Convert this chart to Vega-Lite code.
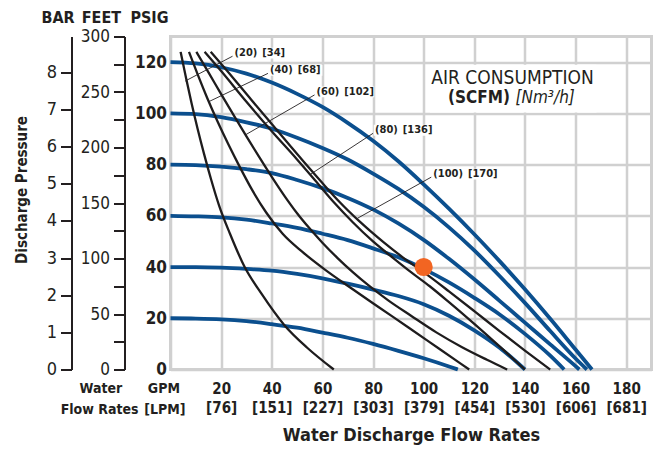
{
  "$schema": "https://vega.github.io/schema/vega-lite/v6.json",
  "autosize": "none",
  "padding": {"left": 170.5, "top": 36.5, "right": 5.5, "bottom": 79.5},
  "width": 481,
  "height": 333,
  "background": "white",
  "datasets": {
    "blue": [
      {"series":"P120","gpm":0,"psi":120},{"series":"P120","gpm":10,"psi":119.5},{"series":"P120","gpm":20,"psi":118},{"series":"P120","gpm":30,"psi":115.5},{"series":"P120","gpm":40,"psi":112},{"series":"P120","gpm":50,"psi":107.6},{"series":"P120","gpm":60,"psi":102.5},{"series":"P120","gpm":70,"psi":96.3},{"series":"P120","gpm":80,"psi":89.3},{"series":"P120","gpm":90,"psi":81.3},{"series":"P120","gpm":100,"psi":72.3},{"series":"P120","gpm":110,"psi":62.8},{"series":"P120","gpm":120,"psi":52.8},{"series":"P120","gpm":130,"psi":42.3},{"series":"P120","gpm":140,"psi":31.3},{"series":"P120","gpm":150,"psi":19.8},{"series":"P120","gpm":160,"psi":7.8},{"series":"P120","gpm":166.5,"psi":0},
      {"series":"P100","gpm":0,"psi":100},{"series":"P100","gpm":10,"psi":99.7},{"series":"P100","gpm":20,"psi":98.5},{"series":"P100","gpm":30,"psi":96.5},{"series":"P100","gpm":40,"psi":94},{"series":"P100","gpm":50,"psi":90.5},{"series":"P100","gpm":60,"psi":86.5},{"series":"P100","gpm":70,"psi":82},{"series":"P100","gpm":80,"psi":76.5},{"series":"P100","gpm":90,"psi":70.5},{"series":"P100","gpm":100,"psi":63.5},{"series":"P100","gpm":110,"psi":55.5},{"series":"P100","gpm":120,"psi":46.5},{"series":"P100","gpm":130,"psi":36.5},{"series":"P100","gpm":140,"psi":26},{"series":"P100","gpm":150,"psi":15},{"series":"P100","gpm":160,"psi":4.3},{"series":"P100","gpm":164.5,"psi":0},
      {"series":"P80","gpm":0,"psi":80},{"series":"P80","gpm":10,"psi":79.8},{"series":"P80","gpm":20,"psi":79.2},{"series":"P80","gpm":30,"psi":78.2},{"series":"P80","gpm":40,"psi":76.7},{"series":"P80","gpm":50,"psi":74},{"series":"P80","gpm":60,"psi":70.8},{"series":"P80","gpm":70,"psi":67},{"series":"P80","gpm":80,"psi":62.5},{"series":"P80","gpm":90,"psi":57},{"series":"P80","gpm":100,"psi":50.6},{"series":"P80","gpm":110,"psi":43.2},{"series":"P80","gpm":120,"psi":35.2},{"series":"P80","gpm":130,"psi":26.8},{"series":"P80","gpm":140,"psi":18.3},{"series":"P80","gpm":150,"psi":9.8},{"series":"P80","gpm":160,"psi":1.3},{"series":"P80","gpm":161.5,"psi":0},
      {"series":"P60","gpm":0,"psi":60},{"series":"P60","gpm":10,"psi":59.8},{"series":"P60","gpm":20,"psi":59.4},{"series":"P60","gpm":30,"psi":58.5},{"series":"P60","gpm":40,"psi":57},{"series":"P60","gpm":50,"psi":55.3},{"series":"P60","gpm":60,"psi":53},{"series":"P60","gpm":70,"psi":50.5},{"series":"P60","gpm":80,"psi":47.3},{"series":"P60","gpm":90,"psi":43.8},{"series":"P60","gpm":100,"psi":39.3},{"series":"P60","gpm":110,"psi":34},{"series":"P60","gpm":120,"psi":28},{"series":"P60","gpm":130,"psi":21.5},{"series":"P60","gpm":140,"psi":13.9},{"series":"P60","gpm":150,"psi":5.4},{"series":"P60","gpm":155.5,"psi":0},
      {"series":"P40","gpm":0,"psi":40},{"series":"P40","gpm":10,"psi":40},{"series":"P40","gpm":20,"psi":39.8},{"series":"P40","gpm":30,"psi":39.3},{"series":"P40","gpm":40,"psi":38.6},{"series":"P40","gpm":50,"psi":37.3},{"series":"P40","gpm":60,"psi":35.6},{"series":"P40","gpm":70,"psi":33.5},{"series":"P40","gpm":80,"psi":31.2},{"series":"P40","gpm":90,"psi":28.7},{"series":"P40","gpm":100,"psi":25.5},{"series":"P40","gpm":110,"psi":21},{"series":"P40","gpm":120,"psi":15.3},{"series":"P40","gpm":130,"psi":8.5},{"series":"P40","gpm":140,"psi":0},
      {"series":"P20","gpm":0,"psi":20},{"series":"P20","gpm":10,"psi":19.9},{"series":"P20","gpm":20,"psi":19.6},{"series":"P20","gpm":30,"psi":18.9},{"series":"P20","gpm":40,"psi":17.7},{"series":"P20","gpm":50,"psi":16.3},{"series":"P20","gpm":60,"psi":14.4},{"series":"P20","gpm":70,"psi":12.4},{"series":"P20","gpm":80,"psi":10},{"series":"P20","gpm":90,"psi":7.3},{"series":"P20","gpm":100,"psi":4.4},{"series":"P20","gpm":110,"psi":1.2},{"series":"P20","gpm":113.5,"psi":0}
    ],
    "black": [
      {"series":"S20","gpm":4,"psi":124},{"series":"S20","gpm":6.1,"psi":114},{"series":"S20","gpm":8.3,"psi":104},{"series":"S20","gpm":10.7,"psi":94},{"series":"S20","gpm":13.3,"psi":84},{"series":"S20","gpm":16.1,"psi":74},{"series":"S20","gpm":19.2,"psi":64},{"series":"S20","gpm":23.5,"psi":53},{"series":"S20","gpm":29.3,"psi":40},{"series":"S20","gpm":36,"psi":29.5},{"series":"S20","gpm":45,"psi":17.3},{"series":"S20","gpm":54,"psi":8.5},{"series":"S20","gpm":64.5,"psi":0},
      {"series":"S40","gpm":7.3,"psi":124},{"series":"S40","gpm":10.8,"psi":115},{"series":"S40","gpm":14.5,"psi":106},{"series":"S40","gpm":18.5,"psi":97},{"series":"S40","gpm":22.8,"psi":88},{"series":"S40","gpm":27.4,"psi":79},{"series":"S40","gpm":32.3,"psi":70},{"series":"S40","gpm":37.8,"psi":61.3},{"series":"S40","gpm":44.3,"psi":53},{"series":"S40","gpm":52,"psi":46},{"series":"S40","gpm":61,"psi":39},{"series":"S40","gpm":71,"psi":32},{"series":"S40","gpm":82,"psi":24.5},{"series":"S40","gpm":94,"psi":16.4},{"series":"S40","gpm":106,"psi":8.2},{"series":"S40","gpm":118,"psi":0},
      {"series":"S60","gpm":10.2,"psi":124},{"series":"S60","gpm":15,"psi":116},{"series":"S60","gpm":20,"psi":107.5},{"series":"S60","gpm":25,"psi":99.2},{"series":"S60","gpm":30,"psi":91},{"series":"S60","gpm":35,"psi":83},{"series":"S60","gpm":40,"psi":75.2},{"series":"S60","gpm":45,"psi":67.8},{"series":"S60","gpm":50,"psi":61},{"series":"S60","gpm":55,"psi":55},{"series":"S60","gpm":60,"psi":49.5},{"series":"S60","gpm":66,"psi":43.5},{"series":"S60","gpm":72,"psi":38},{"series":"S60","gpm":78,"psi":33},{"series":"S60","gpm":86,"psi":27},{"series":"S60","gpm":95,"psi":21},{"series":"S60","gpm":105,"psi":14.5},{"series":"S60","gpm":115,"psi":8.8},{"series":"S60","gpm":125,"psi":3.8},{"series":"S60","gpm":133,"psi":0},
      {"series":"S80","gpm":13.5,"psi":124},{"series":"S80","gpm":20,"psi":116.5},{"series":"S80","gpm":30,"psi":104.5},{"series":"S80","gpm":40,"psi":93},{"series":"S80","gpm":50,"psi":82},{"series":"S80","gpm":57,"psi":74},{"series":"S80","gpm":64.8,"psi":65},{"series":"S80","gpm":72,"psi":57.5},{"series":"S80","gpm":80,"psi":50},{"series":"S80","gpm":88,"psi":43.5},{"series":"S80","gpm":95,"psi":38},{"series":"S80","gpm":102.4,"psi":32.5},{"series":"S80","gpm":110,"psi":26.3},{"series":"S80","gpm":120,"psi":17.8},{"series":"S80","gpm":130,"psi":9},{"series":"S80","gpm":140,"psi":0},
      {"series":"S100","gpm":15.9,"psi":124},{"series":"S100","gpm":22,"psi":117},{"series":"S100","gpm":31.9,"psi":105.3},{"series":"S100","gpm":40,"psi":95.8},{"series":"S100","gpm":46,"psi":88.8},{"series":"S100","gpm":52.9,"psi":80.8},{"series":"S100","gpm":60,"psi":72.8},{"series":"S100","gpm":66.7,"psi":65.5},{"series":"S100","gpm":75,"psi":57.5},{"series":"S100","gpm":84,"psi":49.8},{"series":"S100","gpm":92,"psi":43.6},{"series":"S100","gpm":100,"psi":38},{"series":"S100","gpm":110,"psi":30.5},{"series":"S100","gpm":120,"psi":22.8},{"series":"S100","gpm":130,"psi":15},{"series":"S100","gpm":140,"psi":7.4},{"series":"S100","gpm":150,"psi":0}
    ],
    "boxes": [
      {"gpm":102.5,"gpm2":168.3,"psi":100.3,"psi2":119},
      {"gpm":24.8,"gpm2":45.5,"psi":121.4,"psi2":125.6},
      {"gpm":38.8,"gpm2":60,"psi":114.7,"psi2":118.9},
      {"gpm":57.2,"gpm2":80.5,"psi":106.3,"psi2":110.5},
      {"gpm":80.3,"gpm2":103.5,"psi":91.3,"psi2":95.5},
      {"gpm":103.3,"gpm2":128.5,"psi":74.2,"psi2":78.4}
    ],
    "leaders": [
      {"label":"20","gpm":24.5,"psi":122.3},{"label":"20","gpm":5.8,"psi":112.6},
      {"label":"40","gpm":38.5,"psi":115.6},{"label":"40","gpm":15,"psi":104.5},
      {"label":"60","gpm":56.9,"psi":107.2},{"label":"60","gpm":29.6,"psi":91.6},
      {"label":"80","gpm":80,"psi":92.2},{"label":"80","gpm":55.3,"psi":76.2},
      {"label":"100","gpm":103,"psi":75.1},{"label":"100","gpm":73.8,"psi":59}
    ],
    "labels": [
      {"text":"(20)\u2002[34]","gpm":24.5,"psi":122.3},
      {"text":"(40)\u2002[68]","gpm":38.5,"psi":115.6},
      {"text":"(60)\u2002[102]","gpm":56.9,"psi":107.2},
      {"text":"(80)\u2002[136]","gpm":80,"psi":92.2},
      {"text":"(100)\u2002[170]","gpm":103,"psi":75.1}
    ],
    "notes": [
      {"group":"head","text":"BAR","gpm":-44.4,"psi":137.1},
      {"group":"head","text":"FEET","gpm":-27.3,"psi":137.1},
      {"group":"head","text":"PSIG","gpm":-8.3,"psi":137.1},
      {"group":"xhead","text":"Water","gpm":-27.5,"psi":-7.6},
      {"group":"xhead","text":"Flow Rates","gpm":-28,"psi":-16},
      {"group":"xhead","text":"GPM","gpm":-2.6,"psi":-7.6},
      {"group":"xhead","text":"[LPM]","gpm":-2.2,"psi":-16},
      {"group":"air","text":"AIR CONSUMPTION","gpm":135.1,"psi":113.8},
      {"group":"airBold","text":"(SCFM)","gpm":134.1,"psi":105.8},
      {"group":"airItalic","text":"[Nm³/h]","gpm":136.3,"psi":105.8},
      {"group":"ytitle","text":"Discharge Pressure","gpm":-58.5,"psi":70.1}
    ],
    "point": [{"gpm":100,"psi":40}],
    "feet": [{"feet":0},{"feet":300}],
    "bar": [{"bar":0},{"bar":8.963}]
  },
  "layer": [
    {
      "layer": [
        {
          "data": {"name": "boxes"},
          "mark": {"type": "rect", "color": "white", "opacity": 1},
          "encoding": {
            "x": {"field": "gpm", "type": "quantitative", "scale": {"domain": [0, 190], "nice": false, "zero": false}},
            "x2": {"field": "gpm2"},
            "y": {"field": "psi", "type": "quantitative", "scale": {"domain": [0, 130], "nice": false, "zero": false}},
            "y2": {"field": "psi2"}
          }
        },
        {
          "data": {"name": "blue"},
          "mark": {"type": "line", "color": "#0b4f8e", "strokeWidth": 3.8, "interpolate": "monotone"},
          "encoding": {
            "x": {"field": "gpm", "type": "quantitative", "scale": {"domain": [0, 190], "nice": false, "zero": false},
              "axis": {"title": "Water Discharge Flow Rates", "values": [0,10,20,30,40,50,60,70,80,90,100,110,120,130,140,150,160,170,180,190],
                "labelExpr": "datum.value % 20 == 0 && datum.value > 0 && datum.value < 190 ? [datum.label, '[' + ['', '76', '151', '227', '303', '379', '454', '530', '606', '681'][datum.value / 20] + ']'] : ''",
                "domain": false, "ticks": false, "grid": true, "gridColor": "#d0d0d0", "gridWidth": 2.5,
                "labelFontSize": 15, "labelFontWeight": "bold", "labelColor": "#231f20", "labelPadding": 12, "labelLineHeight": 18.5,
                "labelFlush": false, "labelOverlap": false,
                "titleFontSize": 18, "titleFontWeight": "bold", "titleColor": "#231f20", "titlePadding": 11}},
            "y": {"field": "psi", "type": "quantitative", "scale": {"domain": [0, 130], "nice": false, "zero": false},
              "axis": {"title": null, "values": [0,10,20,30,40,50,60,70,80,90,100,110,120,130],
                "labelExpr": "datum.value % 20 == 0 && datum.value <= 120 ? datum.label : ''",
                "domain": false, "ticks": false, "grid": true, "gridColor": "#d0d0d0", "gridWidth": 2.5,
                "labelFontSize": 17, "labelFontWeight": "bold", "labelColor": "#231f20", "labelPadding": 4,
                "labelFlush": false, "labelOverlap": false}},
            "detail": {"field": "series", "type": "nominal"}
          }
        },
        {
          "data": {"name": "black"},
          "mark": {"type": "line", "color": "#1e1c1d", "strokeWidth": 2.3, "interpolate": "monotone"},
          "encoding": {
            "x": {"field": "gpm", "type": "quantitative", "scale": {"domain": [0, 190], "nice": false, "zero": false}},
            "y": {"field": "psi", "type": "quantitative", "scale": {"domain": [0, 130], "nice": false, "zero": false}},
            "detail": {"field": "series", "type": "nominal"}
          }
        },
        {
          "data": {"name": "leaders"},
          "mark": {"type": "line", "color": "#231f20", "strokeWidth": 0.9},
          "encoding": {
            "x": {"field": "gpm", "type": "quantitative", "scale": {"domain": [0, 190], "nice": false, "zero": false}},
            "y": {"field": "psi", "type": "quantitative", "scale": {"domain": [0, 130], "nice": false, "zero": false}},
            "detail": {"field": "label", "type": "nominal"}
          }
        },
        {
          "data": {"name": "labels"},
          "mark": {"type": "text", "align": "left", "baseline": "middle", "dx": 2, "dy": -3, "fontSize": 11, "fontWeight": "bold", "color": "#231f20"},
          "encoding": {
            "x": {"field": "gpm", "type": "quantitative", "scale": {"domain": [0, 190], "nice": false, "zero": false}},
            "y": {"field": "psi", "type": "quantitative", "scale": {"domain": [0, 130], "nice": false, "zero": false}},
            "text": {"field": "text"}
          }
        },
        {
          "data": {"name": "point"},
          "mark": {"type": "point", "filled": true, "size": 330, "color": "#f26522", "opacity": 1},
          "encoding": {
            "x": {"field": "gpm", "type": "quantitative", "scale": {"domain": [0, 190], "nice": false, "zero": false}},
            "y": {"field": "psi", "type": "quantitative", "scale": {"domain": [0, 130], "nice": false, "zero": false}}
          }
        },
        {
          "data": {"name": "notes"},
          "transform": [{"filter": "datum.group == 'head'"}],
          "mark": {"type": "text", "align": "center", "baseline": "middle", "fontSize": 16, "fontWeight": "bold", "color": "#231f20"},
          "encoding": {
            "x": {"field": "gpm", "type": "quantitative", "scale": {"domain": [0, 190], "nice": false, "zero": false}},
            "y": {"field": "psi", "type": "quantitative", "scale": {"domain": [0, 130], "nice": false, "zero": false}},
            "text": {"field": "text"}
          }
        },
        {
          "data": {"name": "notes"},
          "transform": [{"filter": "datum.group == 'xhead'"}],
          "mark": {"type": "text", "align": "center", "baseline": "middle", "fontSize": 14, "fontWeight": "bold", "color": "#231f20"},
          "encoding": {
            "x": {"field": "gpm", "type": "quantitative", "scale": {"domain": [0, 190], "nice": false, "zero": false}},
            "y": {"field": "psi", "type": "quantitative", "scale": {"domain": [0, 130], "nice": false, "zero": false}},
            "text": {"field": "text"}
          }
        },
        {
          "data": {"name": "notes"},
          "transform": [{"filter": "datum.group == 'air'"}],
          "mark": {"type": "text", "align": "center", "baseline": "middle", "fontSize": 19, "fontWeight": "normal", "color": "#231f20"},
          "encoding": {
            "x": {"field": "gpm", "type": "quantitative", "scale": {"domain": [0, 190], "nice": false, "zero": false}},
            "y": {"field": "psi", "type": "quantitative", "scale": {"domain": [0, 130], "nice": false, "zero": false}},
            "text": {"field": "text"}
          }
        },
        {
          "data": {"name": "notes"},
          "transform": [{"filter": "datum.group == 'airBold'"}],
          "mark": {"type": "text", "align": "right", "baseline": "middle", "fontSize": 17, "fontWeight": "bold", "color": "#231f20"},
          "encoding": {
            "x": {"field": "gpm", "type": "quantitative", "scale": {"domain": [0, 190], "nice": false, "zero": false}},
            "y": {"field": "psi", "type": "quantitative", "scale": {"domain": [0, 130], "nice": false, "zero": false}},
            "text": {"field": "text"}
          }
        },
        {
          "data": {"name": "notes"},
          "transform": [{"filter": "datum.group == 'airItalic'"}],
          "mark": {"type": "text", "align": "left", "baseline": "middle", "fontSize": 17, "fontStyle": "italic", "color": "#231f20"},
          "encoding": {
            "x": {"field": "gpm", "type": "quantitative", "scale": {"domain": [0, 190], "nice": false, "zero": false}},
            "y": {"field": "psi", "type": "quantitative", "scale": {"domain": [0, 130], "nice": false, "zero": false}},
            "text": {"field": "text"}
          }
        },
        {
          "data": {"name": "notes"},
          "transform": [{"filter": "datum.group == 'ytitle'"}],
          "mark": {"type": "text", "align": "center", "baseline": "middle", "angle": 270, "fontSize": 15, "fontWeight": "bold", "color": "#231f20"},
          "encoding": {
            "x": {"field": "gpm", "type": "quantitative", "scale": {"domain": [0, 190], "nice": false, "zero": false}},
            "y": {"field": "psi", "type": "quantitative", "scale": {"domain": [0, 130], "nice": false, "zero": false}},
            "text": {"field": "text"}
          }
        }
      ]
    },
    {
      "data": {"name": "feet"},
      "mark": {"type": "point", "opacity": 0},
      "encoding": {
        "y": {"field": "feet", "type": "quantitative", "scale": {"domain": [0, 300], "nice": false, "zero": false},
          "axis": {"orient": "left", "offset": 46, "title": null, "values": [0,25,50,75,100,125,150,175,200,225,250,275,300],
            "labelExpr": "datum.value % 50 == 0 ? datum.label : ''",
            "domain": true, "domainColor": "#231f20", "domainWidth": 2, "ticks": true, "tickColor": "#231f20", "tickWidth": 2, "tickSize": 11,
            "grid": false, "labelFontSize": 17, "labelColor": "#231f20", "labelPadding": 4, "labelFlush": false, "labelOverlap": false}}
      }
    },
    {
      "data": {"name": "bar"},
      "mark": {"type": "point", "opacity": 0},
      "encoding": {
        "y": {"field": "bar", "type": "quantitative", "scale": {"domain": [0, 8.963], "nice": false, "zero": false},
          "axis": {"orient": "left", "offset": 99, "title": null, "values": [0,1,2,3,4,5,6,7,8],
            "domain": true, "domainColor": "#231f20", "domainWidth": 2, "ticks": true, "tickColor": "#231f20", "tickWidth": 2, "tickSize": 11,
            "grid": false, "labelFontSize": 18, "labelColor": "#231f20", "labelPadding": 4, "labelFlush": false, "labelOverlap": false}}
      }
    }
  ],
  "resolve": {"scale": {"y": "independent"}},
  "config": {
    "font": "Liberation Sans Narrow, Arial Narrow, DejaVu Sans Condensed, Liberation Sans, sans-serif",
    "view": {"stroke": "#d0d0d0", "strokeWidth": 3},
    "axis": {"labelFont": "Liberation Sans Narrow, Arial Narrow, DejaVu Sans Condensed, Liberation Sans, sans-serif", "titleFont": "Liberation Sans Narrow, Arial Narrow, DejaVu Sans Condensed, Liberation Sans, sans-serif"},
    "text": {"font": "Liberation Sans Narrow, Arial Narrow, DejaVu Sans Condensed, Liberation Sans, sans-serif"}
  }
}
